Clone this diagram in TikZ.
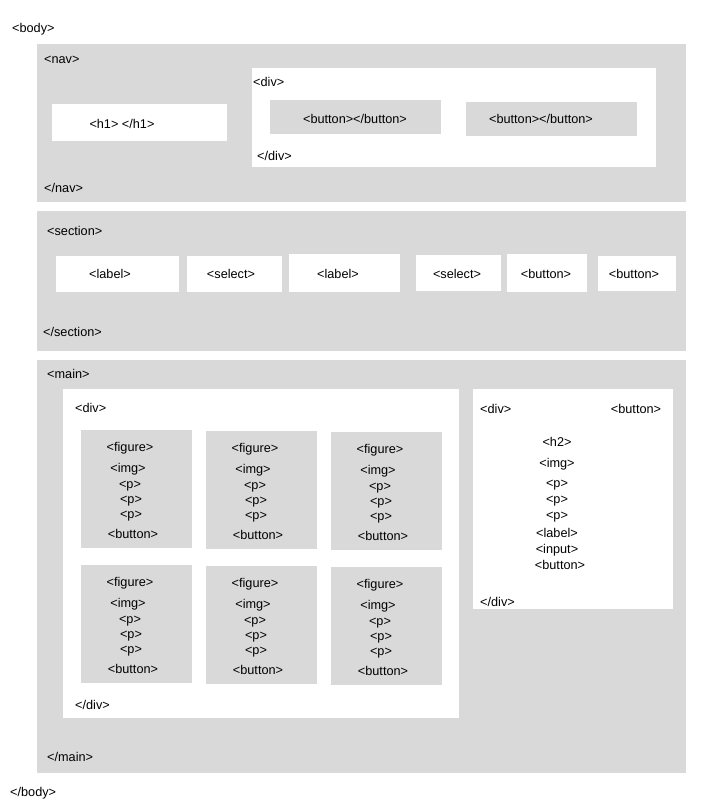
\documentclass[tikz,border=0pt]{standalone}
\usepackage{fontspec}
\setmainfont{Liberation Sans}
\definecolor{boxgray}{HTML}{D9D9D9}
\tikzset{
	tag/.style={font=\fontsize{12.7}{15}\selectfont, inner sep=0pt, anchor=base west, yshift=-1pt},
	ctag/.style={tag, anchor=base},
	graybox/.style={fill=boxgray, draw=none},
	whitebox/.style={fill=white, draw=none}
}
\begin{document}
\begin{tikzpicture}[x=1pt, y=-1pt]

	% page
	\fill[white] (0, 0) rectangle (723, 803);
	\useasboundingbox (0, 0) rectangle (723, 803);
	\node[tag] (bodyopen) at (12, 31) {<body>};
	\node[tag] (bodyclose) at (10, 795) {</body>};

	% nav
	\path[graybox] (37, 44) rectangle (686, 202);
	\node[tag] (navopen) at (44, 62) {<nav>};
	\node[tag] (navclose) at (44, 191) {</nav>};
	\path[whitebox] (52, 104) rectangle (227, 141);
	\node[ctag] (h1) at (122, 127) {<h1> </h1>};
	\path[whitebox] (252, 68) rectangle (656, 167);
	\node[tag] (navdivopen) at (253, 85) {<div>};
	\node[tag] (navdivclose) at (257, 159) {</div>};
	\path[graybox] (270, 100) rectangle (441, 134);
	\node[ctag] (navbtn1) at (355, 122) {<button></button>};
	\path[graybox] (466, 102) rectangle (637, 136);
	\node[ctag] (navbtn2) at (541, 122) {<button></button>};

	% section
	\path[graybox] (37, 211) rectangle (686, 351);
	\node[tag] (secopen) at (47, 234) {<section>};
	\node[tag] (secclose) at (43, 335) {</section>};
	\foreach \l/\t/\r/\b/\c/\txt [count=\i] in {56/256/179/292/110/<label>, 187/256/282/292/231/<select>,
		289/254/400/292/338/<label>, 416/255/501/291/457/<select>,
		507/254/587/292/546/<button>, 598/256/676/291/634/<button>}
	{
		\path[whitebox] (\l, \t) rectangle (\r, \b);
		\node[ctag] (secitem\i) at (\c, 277) {\txt};
	}

	% main
	\path[graybox] (37, 360) rectangle (686, 773);
	\node[tag] (mainopen) at (47, 377) {<main>};
	\node[tag] (mainclose) at (47, 760) {</main>};

	% product grid
	\path[whitebox] (63, 389) rectangle (459, 718);
	\node[tag] (griddivopen) at (75, 411) {<div>};
	\node[tag] (griddivclose) at (75, 708) {</div>};
	\foreach \l/\t [count=\i] in {81/430, 206/431, 331/432, 81/565, 206/566, 331/567}
	{
		\path[graybox] (\l, \t) rectangle ++(111, 118);
		\node[ctag] (fig\i) at (\l+49, \t+20) {<figure>};
		\node[ctag] (img\i) at (\l+47, \t+41) {<img>};
		\node[ctag] (pa\i) at (\l+49, \t+57) {<p>};
		\node[ctag] (pb\i) at (\l+50, \t+72) {<p>};
		\node[ctag] (pc\i) at (\l+50, \t+87) {<p>};
		\node[ctag] (btn\i) at (\l+52, \t+107) {<button>};
	}

	% detail panel
	\path[whitebox] (473, 389) rectangle (673, 609);
	\node[tag] (paneldivopen) at (480, 412) {<div>};
	\node[ctag] (panelclosebtn) at (636, 412) {<button>};
	\node[ctag] (panelh2) at (557, 445) {<h2>};
	\node[ctag] (panelimg) at (557, 466) {<img>};
	\foreach \y [count=\i] in {486, 502, 518}
	\node[ctag] (panelp\i) at (557, \y) {<p>};
	\node[ctag] (panellabel) at (557, 536) {<label>};
	\node[ctag] (panelinput) at (557, 552) {<input>};
	\node[ctag] (panelbtn) at (560, 568) {<button>};
	\node[tag] (paneldivclose) at (480, 605) {</div>};

\end{tikzpicture}
\end{document}
